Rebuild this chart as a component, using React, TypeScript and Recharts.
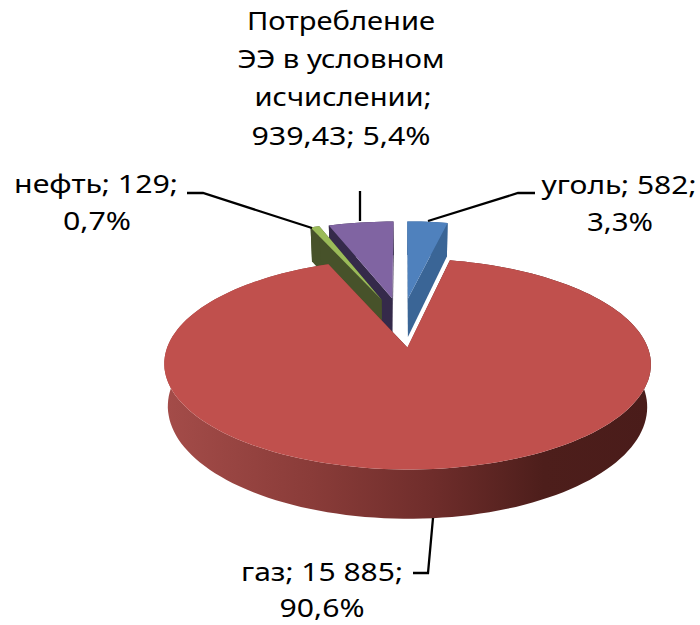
import React from "react";
import { PieChart, Pie, Cell } from "recharts";

// painted back to front: oil goes first so the big gas slice ends up on top
const categories = ["нефть", "Потребление ЭЭ в условном исчислении", "уголь", "газ"];
const values = [129, 939.43, 582, 15885];
const topColors = ["#9bbb59", "#8064a2", "#4f81bd", "#c0504d"];
const wallColors = ["#47522a", "#352a4a", "#3a6596", "url(#gasWall)"];
const labelLines = [
  ["нефть; 129;", "0,7%"],
  ["Потребление", "ЭЭ в условном", "исчислении;", "939,43; 5,4%"],
  ["уголь; 582;", "3,3%"],
  ["газ; 15 885;", "90,6%"],
];

const total = values.reduce((a, b) => a + b, 0);
const startAngle = 90 + ((values[0] + values[1]) / total) * 360;
const data = categories.map((name, i) => ({ name, value: values[i] }));

// 3d look
const RADIUS = 231;
const TILT = 95 / RADIUS;
const PERSPECTIVE = 0.15;
const EXPLODE = 0.26;
const DEPTH = 40;
const BOTTOM_SCALE = 0.985;

const rad = (d: number) => (d * Math.PI) / 180;

function SliceShape(props: any) {
  const { cx, cy, outerRadius, index, only, skip } = props;
  if (only !== undefined && index !== only) return null;
  if (skip !== undefined && index === skip) return null;
  const from = 90 - props.startAngle;
  const to = 90 - props.endAngle;
  const mid = (from + to) / 2;
  const ox = EXPLODE * Math.sin(rad(mid));
  const oz = EXPLODE * Math.cos(rad(mid));

  const project = (theta: number, r: number, low: boolean) => {
    const X = ox + r * Math.sin(rad(theta));
    const Z = oz + r * Math.cos(rad(theta));
    const w = 1 + PERSPECTIVE * Z;
    const s = low ? BOTTOM_SCALE : 1;
    return [
      cx + (s * outerRadius * X) / w,
      cy - (outerRadius * TILT * Z) / w + (low ? DEPTH / w : 0),
    ];
  };
  const toPath = (pts: number[][]) =>
    "M" + pts.map((p) => p[0].toFixed(1) + "," + p[1].toFixed(1)).join("L") + "Z";

  const thetas: number[] = [];
  const steps = Math.max(2, Math.ceil((to - from) / 2));
  for (let i = 0; i <= steps; i++) thetas.push(from + ((to - from) * i) / steps);

  const top = [project(0, 0, false), ...thetas.map((t) => project(t, 1, false))];
  const arcWall = [
    ...thetas.map((t) => project(t, 1, false)),
    ...[...thetas].reverse().map((t) => project(t, 1, true)),
  ];
  const cutWall = (t: number) => [
    project(0, 0, false),
    project(t, 1, false),
    project(t, 1, true),
    project(0, 0, true),
  ];
  const wall = wallColors[index];

  return (
    <g>
      <defs>
        <linearGradient id="gasWall" x1="0" y1="0" x2="1" y2="0">
          <stop offset="0" stopColor="#a44c49" />
          <stop offset="0.3" stopColor="#8a3c39" />
          <stop offset="0.55" stopColor="#6f2d2b" />
          <stop offset="0.78" stopColor="#4d1e1b" />
          <stop offset="1" stopColor="#4a1c1a" />
        </linearGradient>
      </defs>
      <path d={toPath(arcWall)} fill={wall} />
      <path d={toPath(cutWall(from))} fill={wall} />
      <path d={toPath(cutWall(to))} fill={wall} />
      <path d={toPath(top)} fill={topColors[index]} />
    </g>
  );
}

const labelFont = { fontFamily: "'Noto Sans', sans-serif", fontSize: 26, fill: "#000" };
// text is stretched wide in the original, so each line gets its own measured width
const labelSpots = [
  [{ x: 96, y: 193, w: 164 }, { x: 97, y: 230, w: 68 }],
  [
    { x: 341, y: 30, w: 188 },
    { x: 341, y: 68, w: 207 },
    { x: 343, y: 106, w: 177 },
    { x: 341, y: 145, w: 179 },
  ],
  [{ x: 619, y: 194, w: 155 }, { x: 620, y: 231, w: 66 }],
  [{ x: 322, y: 581, w: 162 }, { x: 322, y: 617, w: 85 }],
];
const leaders = [
  "M187,193L203,193L312,228",
  "M360,191L360,221",
  "M535,193L518,193L428,221",
  "M433,518L428,573L413,573",
];

function SliceLabel(props: any) {
  const i = props.index;
  return (
    <g>
      <path d={leaders[i]} fill="none" stroke="#000" strokeWidth={2.3} />
      {labelLines[i].map((line, k) => {
        const spot = labelSpots[i][k];
        return (
          <text
            key={k}
            x={spot.x}
            y={spot.y}
            textAnchor="middle"
            textLength={spot.w}
            lengthAdjust="spacingAndGlyphs"
            {...labelFont}
          >
            {line}
          </text>
        );
      })}
    </g>
  );
}

export default function App() {
  return (
    <div style={{ position: "absolute", left: 0, top: 0 }}>
      <PieChart width={700} height={625}>
        <Pie
          data={data}
          dataKey="value"
          nameKey="name"
          cx={397}
          cy={317}
          outerRadius={RADIUS}
          startAngle={startAngle}
          endAngle={startAngle - 360}
          stroke="none"
          isAnimationActive={false}
          shape={(p: any) => <SliceShape {...p} only={1} />}
          label={false}
          labelLine={false}
        >
          {data.map((d, i) => (
            <Cell key={d.name} fill={topColors[i]} />
          ))}
        </Pie>
        <Pie
          data={data}
          dataKey="value"
          nameKey="name"
          cx={397}
          cy={317}
          outerRadius={RADIUS}
          startAngle={startAngle}
          endAngle={startAngle - 360}
          stroke="none"
          isAnimationActive={false}
          shape={(p: any) => <SliceShape {...p} skip={1} />}
          label={SliceLabel}
          labelLine={false}
        >
          {data.map((d, i) => (
            <Cell key={d.name} fill={topColors[i]} />
          ))}
        </Pie>
      </PieChart>
    </div>
  );
}
